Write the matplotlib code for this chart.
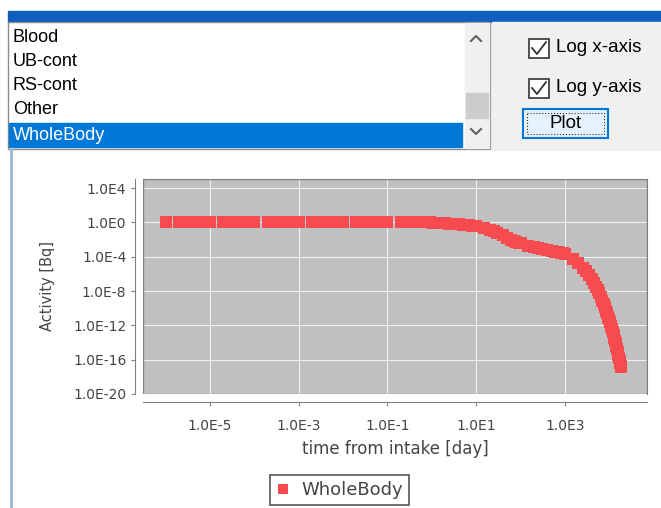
import matplotlib.pyplot as plt
from matplotlib.patches import Rectangle
from matplotlib.lines import Line2D

# time from intake [day]
dias = [
    1e-6, 2e-6, 3e-6, 4e-6, 5e-6, 6e-6, 7e-6, 8e-6, 9e-6,
    1e-5, 2e-5, 3e-5, 4e-5, 5e-5, 6e-5, 7e-5, 8e-5, 9e-5,
    1e-4, 2e-4, 3e-4, 4e-4, 5e-4, 6e-4, 7e-4, 8e-4, 9e-4,
    1e-3, 2e-3, 3e-3, 4e-3, 5e-3, 6e-3, 7e-3, 8e-3, 9e-3,
    1e-2, 2e-2, 3e-2, 4e-2, 5e-2, 6e-2, 7e-2, 8e-2, 9e-2,
    0.1, 0.2, 0.3, 0.4, 0.5, 0.6, 0.7, 0.8, 0.9,
    1, 1.5, 2, 2.5, 3, 4, 5, 6, 7, 8, 9,
    10, 15, 20, 25, 30, 40, 50, 60, 70, 80, 90,
    100, 150, 200, 250, 300, 400, 500, 600, 700, 800, 900,
    1000, 1500, 2000, 2500, 3000, 3500, 4000, 4500, 5000, 5500,
    6000, 6500, 7000, 7500, 8000, 8500, 9000, 9500,
    10000, 10500, 11000, 11500, 12000, 12500, 13000, 13500, 14000, 14500,
    15000, 15500, 16000, 16500, 17000, 17500, 18000, 18250,
]
# WholeBody activity [Bq]
actividad = [
    1.0, 1.0, 1.0, 1.0, 1.0, 1.0, 1.0, 1.0, 1.0,
    1.0, 1.0, 1.0, 1.0, 1.0, 1.0, 1.0, 1.0, 1.0,
    1.0, 1.0, 1.0, 1.0, 1.0, 1.0, 1.0, 1.0, 1.0,
    1.0, 1.0, 1.0, 1.0, 1.0, 1.0, 1.0, 1.0, 1.0,
    1.0, 1.0, 1.0, 1.0, 1.0, 1.0, 1.0, 1.0, 1.0,
    1.0, 1.0, 1.0, 1.0, 1.0, 0.99, 0.99, 0.98, 0.98,
    0.91, 0.85, 0.79, 0.73, 0.68, 0.60, 0.54, 0.49, 0.45, 0.42, 0.39,
    0.37, 0.20, 0.13, 0.093, 0.065, 0.030, 0.0155, 9.1e-3, 6.2e-3, 5.1e-3, 4.3e-3,
    3.6e-3, 1.95e-3, 1.35e-3, 1.03e-3, 8.3e-4, 5.9e-4, 4.6e-4, 3.9e-4, 3.3e-4, 3.0e-4, 2.7e-4,
    2.0e-4, 5.6e-5, 1.9e-5, 5.2e-6, 1.9e-6, 8.1e-7, 2.8e-7, 8.9e-8, 3.3e-8, 1.4e-8,
    5.9e-9, 2.2e-9, 6.8e-10, 3.0e-10, 1.3e-10, 5.1e-11, 2.6e-11, 1.05e-11,
    5.1e-12, 2.3e-12, 9.3e-13, 3.8e-13, 1.7e-13, 7.6e-14, 3.5e-14, 1.7e-14, 8.3e-15, 4.3e-15,
    2.0e-15, 8.7e-16, 3.7e-16, 1.7e-16, 7.9e-17, 3.7e-17, 1.8e-17, 1.26e-17,
]

xticks = [1e-5, 1e-3, 1e-1, 1e1, 1e3]
xlabels = ["1.0E-5", "1.0E-3", "1.0E-1", "1.0E1", "1.0E3"]
yticks = [1e4, 1e0, 1e-4, 1e-8, 1e-12, 1e-16, 1e-20]
ylabels = ["1.0E4", "1.0E0", "1.0E-4", "1.0E-8", "1.0E-12", "1.0E-16", "1.0E-20"]

items = ["Blood", "UB-cont", "RS-cont", "Other", "WholeBody"]
opciones = ["Log x-axis", "Log y-axis"]

rojo = "#F84B50"
gris = "#444444"
W, H = 661, 508

fig = plt.figure(figsize=(6.61, 5.08), dpi=100)

# --- ventana (parte de arriba) ---
gui = fig.add_axes([0, 0, 1, 1])
gui.set_xlim(0, W)
gui.set_ylim(H, 0)
gui.axis("off")

gui.add_patch(Rectangle((8, 11), W - 8, 11, color="#0F5FC0"))
gui.add_patch(Rectangle((492, 22), W - 492, 128, color="#F0F0F0"))
gui.add_patch(Rectangle((8, 22), 482, 127, facecolor="white", edgecolor="#8C8C8C", lw=1))
gui.add_patch(Rectangle((465, 23), 24, 125, color="#F0F0F0"))
gui.add_patch(Rectangle((466, 93), 22, 25, color="#CDCDCD"))
gui.plot([471, 476, 481], [41, 36, 41], color="#606060", lw=1.5)
gui.plot([471, 476, 481], [129, 134, 129], color="#606060", lw=1.5)

fila_y = [37, 61, 86, 110, 135]
for nombre, yy in zip(items, fila_y):
    col = "black"
    if nombre == "WholeBody":
        gui.add_patch(Rectangle((9, 123), 453, 24, color="#0078D7"))
        col = "white"
    gui.text(13, yy, nombre, family="Liberation Sans", fontsize=13, color=col,
             va="center", ha="left")

for op, yy in zip(opciones, [48, 88]):
    gui.add_patch(Rectangle((529, yy - 9), 20, 19, facecolor="white", edgecolor="#333333", lw=1.2))
    gui.plot([532, 537, 546], [yy, yy + 6, yy - 6], color="#333333", lw=1.3)
    gui.text(556, yy, op, family="Liberation Sans", fontsize=13.5, color="black",
             va="center", ha="left")

gui.add_patch(Rectangle((523, 109), 85, 29, facecolor="#E5F1FB", edgecolor="#0078D7", lw=1.5))
gui.add_patch(Rectangle((527, 113), 77, 21, fill=False, edgecolor="#333333", lw=0.8, ls=":"))
gui.text(565.5, 124, "Plot", family="Liberation Sans", fontsize=13.5, color="black",
         va="center", ha="center")

gui.plot([10.5, 10.5], [150, H], color="#9DB9D3", lw=2)

# --- grafico ---
ax = fig.add_axes([143 / W, 1 - 394 / H, 504 / W, 215 / H])
ax.set_facecolor("#C0C0C0")
ax.plot(dias, actividad, "s", color=rojo, markersize=8.5, markeredgewidth=0, zorder=3)

ax.set_xscale("log")
ax.set_yscale("log")
ax.set_xlim(10 ** -6.51, 10 ** 4.85)
ax.set_ylim(1e-20, 10 ** 5.05)
ax.set_xticks(xticks, labels=xlabels)
ax.set_yticks(yticks, labels=ylabels)
ax.minorticks_off()
ax.grid(True, color="white", lw=0.8, alpha=0.8)
ax.set_axisbelow(True)

for lado in ["top", "right"]:
    ax.spines[lado].set_color("#808080")
for lado in ["left", "bottom"]:
    ax.spines[lado].set_position(("outward", 6))
    ax.spines[lado].set_color("#808080")
ax.add_patch(Rectangle((0, 0), 1, 1, transform=ax.transAxes, fill=False,
                       edgecolor="#808080", lw=1, zorder=4))

ax.tick_params(axis="both", length=3, color="#808080", labelcolor=gris, labelsize=10)
ax.tick_params(axis="x", pad=9)
ax.tick_params(axis="y", pad=3)
ax.set_xlabel("time from intake [day]", fontsize=12, color=gris, labelpad=5)
ax.set_ylabel("Activity [Bq]", fontsize=10.5, color=gris, labelpad=13)

h = Line2D([], [], ls="none", marker="s", markersize=7.2, color=rojo, markeredgewidth=0)
leg = fig.legend([h], ["WholeBody"], loc="center", bbox_to_anchor=(339.5 / W, 1 - 490 / H),
                 fancybox=False, edgecolor="#555555", framealpha=1, fontsize=13,
                 handlelength=0.8, handletextpad=0.6, borderpad=0.35)
leg.get_frame().set_linewidth(1.2)
for t in leg.get_texts():
    t.set_color(gris)

plt.savefig("out.png", dpi=100)
